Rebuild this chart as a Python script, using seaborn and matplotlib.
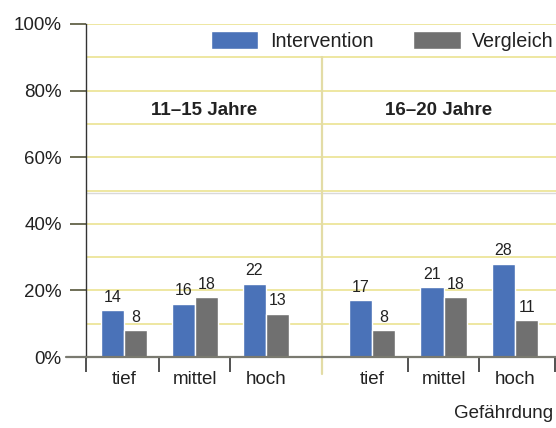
import pandas as pd
import seaborn as sns
import matplotlib.pyplot as plt

sns.set_style("white")
plt.rcParams['font.family'] = ['Liberation Sans', 'DejaVu Sans']
plt.rcParams['text.color'] = '#222222'
plt.rcParams['xtick.color'] = '#222222'
plt.rcParams['ytick.color'] = '#222222'

# data
categories = ["tief", "mittel", "hoch"]
age_groups = ["11–15 Jahre", "16–20 Jahre"]
series = ["Intervention", "Vergleich"]
intervention_11_15 = [14, 16, 22]
vergleich_11_15 = [8, 18, 13]
intervention_16_20 = [17, 21, 28]
vergleich_16_20 = [8, 18, 11]
y_ticks = [0, 20, 40, 60, 80, 100]
y_labels = ["0%", "20%", "40%", "60%", "80%", "100%"]

rows = []
for age, inter, verg in [(age_groups[0], intervention_11_15, vergleich_11_15),
                         (age_groups[1], intervention_16_20, vergleich_16_20)]:
    for cat, a, b in zip(categories, inter, verg):
        rows.append((age, cat, series[0], a))
        rows.append((age, cat, series[1], b))
df = pd.DataFrame(rows, columns=["Alter", "Gefährdung", "Gruppe", "Wert"])

blue = "#4a72b8"
gray = "#707070"
grid_yellow = "#ede59a"

W, H = 556, 428
fig = plt.figure(figsize=(W / 100, H / 100), dpi=100)
ax1 = fig.add_axes([86 / W, 1 - 357 / H, (322 - 86) / W, 333 / H])
ax2 = fig.add_axes([322 / W, 1 - 357 / H, (556 - 322) / W, 333 / H])

for ax, age, xlim, bounds in [(ax1, age_groups[0], (-0.535, 2.79), [-0.535, 0.5, 1.5]),
                              (ax2, age_groups[1], (-0.70, 2.57), [0.5, 1.5, 2.55])]:
    sub = df[df["Alter"] == age]
    sns.barplot(data=sub, x="Gefährdung", y="Wert", hue="Gruppe",
                order=categories, hue_order=series, palette=[blue, gray],
                width=0.65, saturation=1, errorbar=None, ax=ax,
                legend=(ax is ax1))
    for cont in ax.containers:
        ax.bar_label(cont, fmt="%d", padding=4, fontsize=11.5, color="#222222")

    ax.set_xlim(*xlim)
    ax.set_ylim(0, 100)
    ax.set_xlabel("")
    ax.set_ylabel("")
    ax.set_yticks(y_ticks)
    ax.set_yticks([10, 30, 50, 70, 90], minor=True)
    ax.grid(True, axis="y", which="both", color=grid_yellow, lw=1.3)
    ax.axhline(49.2, color="#d9d9d9", lw=1, zorder=0)
    ax.set_axisbelow(True)

    ax.set_xticks(range(len(categories)))
    ax.set_xticklabels(categories, fontsize=13.5)
    ax.set_xticks(bounds, minor=True)
    ax.tick_params(axis="x", which="major", bottom=True, length=0, pad=10)
    ax.tick_params(axis="x", which="minor", bottom=True, length=11, width=1.2,
                   color="#333333")
    ax.tick_params(axis="y", which="minor", length=0)

    for s in ["top", "right"]:
        ax.spines[s].set_visible(False)
    ax.spines["bottom"].set_color("#7a7a70")
    ax.spines["bottom"].set_linewidth(1.6)

    ax.text(0.5, 0.74, age, transform=ax.transAxes, ha="center", va="center",
            fontsize=13.5, fontweight="bold")

ax1.set_yticklabels(y_labels, fontsize=13.5)
ax1.tick_params(axis="y", which="major", left=True, length=11.5, width=1.2,
                color="#55553a", pad=6)
ax1.spines["left"].set_color("#333333")
ax1.spines["left"].set_linewidth(1.0)
# baseline reaches a bit left of the y axis
ax1.plot([-0.085, 0], [0, 0], transform=ax1.transAxes, clip_on=False,
         color="#7a7a70", lw=1.6)

ax2.spines["left"].set_visible(False)
ax2.tick_params(axis="y", which="both", left=False, length=0, labelleft=False)
# divider between the age groups
ax2.plot([0, 0], [-0.05, 0.9], transform=ax2.transAxes, clip_on=False,
         color="#e3dca6", lw=1.6)

handles, labels = ax1.get_legend_handles_labels()
ax1.get_legend().remove()
fig.legend(handles, labels, loc="center right", bbox_to_anchor=(554 / W, 1 - 41 / H),
           ncol=2, frameon=False, fontsize=14.2, handlelength=2.4, handleheight=1.0,
           handletextpad=0.6, columnspacing=2.0, borderpad=0, borderaxespad=0)

fig.text(553 / W, 1 - 413 / H, "Gefährdung", ha="right", va="center", fontsize=13.5)

fig.savefig("out.png", dpi=100)
